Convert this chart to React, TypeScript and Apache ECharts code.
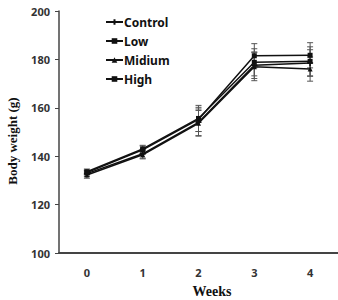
import React, { useEffect, useRef } from "react";
import * as echarts from "echarts";

const weekLabels = ["0", "1", "2", "3", "4"];
const yTicks = [100, 120, 140, 160, 180, 200];

const seriesNames = ["Control", "Low", "Midium", "High"];
const symbols = ["path://M-1,0H1M0,-1V1", "rect", "triangle", "rect"];

const controlMean = [132.8, 141.0, 154.0, 177.6, 178.5];
const lowMean = [133.2, 142.6, 155.2, 181.5, 181.7];
const midiumMean = [132.2, 140.6, 153.6, 177.0, 176.0];
const highMean = [133.6, 143.0, 155.6, 178.8, 179.2];

const controlSd = [1.2, 1.8, 5.5, 5.5, 5.5];
const lowSd = [1.0, 1.6, 5.0, 5.0, 5.2];
const midiumSd = [1.3, 1.7, 5.3, 5.8, 5.0];
const highSd = [1.1, 1.5, 5.4, 5.6, 6.0];

const means = [controlMean, lowMean, midiumMean, highMean];
const sds = [controlSd, lowSd, midiumSd, highSd];

export default function App() {
  const ref = useRef<HTMLDivElement>(null);

  useEffect(() => {
    if (!ref.current) return;
    const chart = echarts.init(ref.current, null, { renderer: "svg" });

    const lineSeries = seriesNames.map((name, i) => ({
      name,
      type: "line",
      data: means[i],
      symbol: symbols[i],
      symbolSize: i === 0 ? 6 : 5,
      showSymbol: true,
      lineStyle: { color: "#111", width: 1.5 },
      itemStyle: { color: "#111", borderColor: "#111", borderWidth: i === 0 ? 1.5 : 0 },
      z: 3,
    }));

    const errorSeries = seriesNames.map((name, i) => ({
      name: name + "-sd",
      type: "custom",
      data: weekLabels.map((_, k) => [k, means[i][k] - sds[i][k], means[i][k] + sds[i][k]]),
      renderItem: (params: any, api: any) => {
        const x = api.value(0);
        const lo = api.coord([x, api.value(1)]);
        const hi = api.coord([x, api.value(2)]);
        const half = 3;
        const style = { stroke: "#555", lineWidth: 1 };
        return {
          type: "group",
          children: [
            { type: "line", shape: { x1: lo[0], y1: lo[1], x2: hi[0], y2: hi[1] }, style },
            { type: "line", shape: { x1: lo[0] - half, y1: lo[1], x2: lo[0] + half, y2: lo[1] }, style },
            { type: "line", shape: { x1: hi[0] - half, y1: hi[1], x2: hi[0] + half, y2: hi[1] }, style },
          ],
        };
      },
      z: 2,
      silent: true,
    }));

    chart.setOption({
      animation: false,
      grid: { left: 59, right: 0, top: 11, bottom: 47 },
      legend: {
        data: seriesNames,
        orient: "vertical",
        left: 100,
        top: 11,
        itemWidth: 17,
        itemHeight: 7,
        itemGap: 7,
        textStyle: {
          fontFamily: "Noto Sans",
          fontWeight: "bold",
          fontSize: 12,
          color: "#111",
          padding: [0, 0, 0, -4],
        },
      },
      xAxis: {
        type: "category",
        data: weekLabels,
        boundaryGap: true,
        axisLine: { lineStyle: { color: "#444", width: 2 } },
        axisTick: { show: false },
        splitLine: { show: false },
        axisLabel: {
          margin: 14,
          fontFamily: "Noto Sans",
          fontWeight: "bold",
          fontSize: 11,
          color: "#333",
        },
      },
      yAxis: {
        type: "value",
        min: yTicks[0],
        max: yTicks[yTicks.length - 1],
        interval: 20,
        axisLine: { show: true, lineStyle: { color: "#444", width: 1.5 } },
        axisTick: { show: true, length: 4, lineStyle: { color: "#444" } },
        splitLine: { show: false },
        axisLabel: {
          margin: 9,
          fontFamily: "Noto Sans",
          fontWeight: "bold",
          fontSize: 11,
          color: "#333",
        },
      },
      graphic: [
        {
          type: "text",
          x: 12,
          y: 141,
          rotation: Math.PI / 2,
          style: {
            text: "Body weight (g)",
            fontFamily: "Liberation Serif",
            fontWeight: "bold",
            fontSize: 13,
            fill: "#111",
            align: "center",
            verticalAlign: "middle",
          },
        },
        {
          type: "text",
          x: 212,
          y: 291,
          style: {
            text: "Weeks",
            fontFamily: "Liberation Serif",
            fontWeight: "bold",
            fontSize: 14,
            fill: "#111",
            align: "center",
            verticalAlign: "middle",
          },
        },
      ],
      series: [...errorSeries, ...lineSeries],
    });

    return () => chart.dispose();
  }, []);

  return <div ref={ref} style={{ width: 338, height: 300, position: "absolute", left: 0, top: 0, background: "#fff" }} />;
}
